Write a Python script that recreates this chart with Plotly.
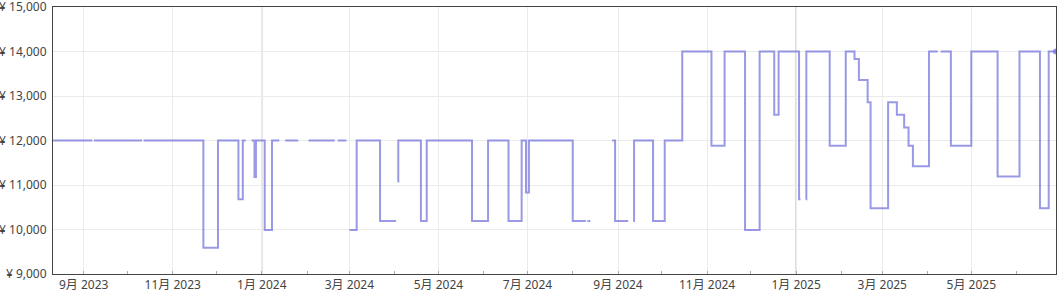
import plotly.graph_objects as go

# Price history (None marks a gap in the record)
dates = [
    "2023-08-11", "2023-09-07", None,
    "2023-09-08", "2023-10-11", None,
    "2023-10-12", "2023-11-22", "2023-12-02", "2023-12-16", "2023-12-19", "2023-12-21", None,
    "2023-12-25", "2023-12-27", "2023-12-28", "2024-01-03", "2024-01-08", "2024-01-13", None,
    "2024-01-17", "2024-01-26", None,
    "2024-02-02", "2024-02-20", None,
    "2024-02-22", "2024-02-28", None,
    "2024-03-01", "2024-03-06", "2024-03-22", "2024-04-02", None,
    "2024-04-03 00:00", "2024-04-03 12:00", "2024-04-19", "2024-04-23", "2024-05-24", "2024-06-04",
    "2024-06-18", "2024-06-27", "2024-06-30", "2024-07-02", "2024-08-01", "2024-08-10", None,
    "2024-08-11", "2024-08-13", None,
    "2024-08-28", "2024-08-30", "2024-09-08", None,
    "2024-09-11 12:00", "2024-09-12", "2024-09-25", "2024-10-03", "2024-10-15", "2024-11-04",
    "2024-11-13", "2024-11-27", "2024-12-07", "2024-12-17", "2024-12-20", "2025-01-03", "2025-01-04", None,
    "2025-01-07 12:00", "2025-01-08", "2025-01-24", "2025-02-04", "2025-02-10", "2025-02-13",
    "2025-02-19", "2025-02-21", "2025-03-05", "2025-03-11", "2025-03-16", "2025-03-19", "2025-03-22",
    "2025-04-02", "2025-04-08", None,
    "2025-04-10", "2025-04-17", "2025-05-01", "2025-05-19", "2025-06-03", "2025-06-17", "2025-06-23",
    "2025-06-28",
]
prices = [
    12000, 12000, None,
    12000, 12000, None,
    12000, 9590, 12000, 10680, 12000, 12000, None,
    12000, 11180, 12000, 9990, 12000, 12000, None,
    12000, 12000, None,
    12000, 12000, None,
    12000, 12000, None,
    9990, 12000, 10190, 10190, None,
    11080, 12000, 10190, 12000, 10190, 12000,
    10190, 12000, 10830, 12000, 10190, 10190, None,
    10190, 10190, None,
    12000, 10190, 10190, None,
    10190, 12000, 10190, 12000, 14000, 11880,
    14000, 9990, 14000, 12580, 14000, 10680, 10680, None,
    10680, 14000, 11880, 14000, 13830, 13360,
    12860, 10480, 12860, 12580, 12290, 11880, 11420,
    14000, 14000, None,
    14000, 11880, 14000, 11190, 14000, 10480, 14000,
    14000,
]
year_marks = ["2024-01-01", "2025-01-01"]
x_range = ["2023-08-11", "2025-06-28"]
y_range = [9000, 15000]

LINE = "rgba(110,110,220,0.7)"
FONT = "Noto Sans, Noto Sans CJK JP, sans-serif"

fig = go.Figure()
fig.add_trace(go.Scatter(
    x=dates, y=prices, mode="lines", line=dict(color=LINE, width=2, shape="hv"),
    connectgaps=False, showlegend=False, hoverinfo="skip",
))
fig.add_trace(go.Scatter(
    x=[dates[-1]], y=[prices[-1]], mode="markers",
    marker=dict(color=LINE, size=6), showlegend=False,
))

for d in year_marks:
    fig.add_shape(type="line", xref="x", yref="paper", x0=d, x1=d, y0=0, y1=1,
                  line=dict(color="#a0a0a0", width=1), layer="below")

fig.update_layout(
    width=1061, height=292,
    margin=dict(l=53, r=5, t=7, b=18, autoexpand=False),
    paper_bgcolor="white", plot_bgcolor="white",
    font=dict(family=FONT, size=12, color="#444"),
)
fig.update_xaxes(
    type="date", range=x_range, automargin=False,
    tick0="2023-09-01", dtick="M2", tickformat="%-m月 %Y",
    ticks="inside", ticklen=3, tickcolor="#aaa",
    minor=dict(dtick="M1", ticks="inside", ticklen=3, tickcolor="#aaa", showgrid=False),
    showgrid=True, gridcolor="#ebebeb", gridwidth=1,
    showline=True, linecolor="#444", linewidth=1, mirror=True,
    zeroline=False, tickfont=dict(size=12, color="#444"),
    ticklabeloverflow="allow",
)
fig.update_yaxes(
    range=y_range, dtick=1000, tickprefix="¥ ", tickformat=",", automargin=False,
    showgrid=True, gridcolor="#ebebeb", gridwidth=1,
    showline=True, linecolor="#444", linewidth=1, mirror=True,
    zeroline=False, ticks="", ticklabelstandoff=3, tickfont=dict(size=12, color="#444"),
    ticklabeloverflow="allow",
)

fig.write_html("out.html")
